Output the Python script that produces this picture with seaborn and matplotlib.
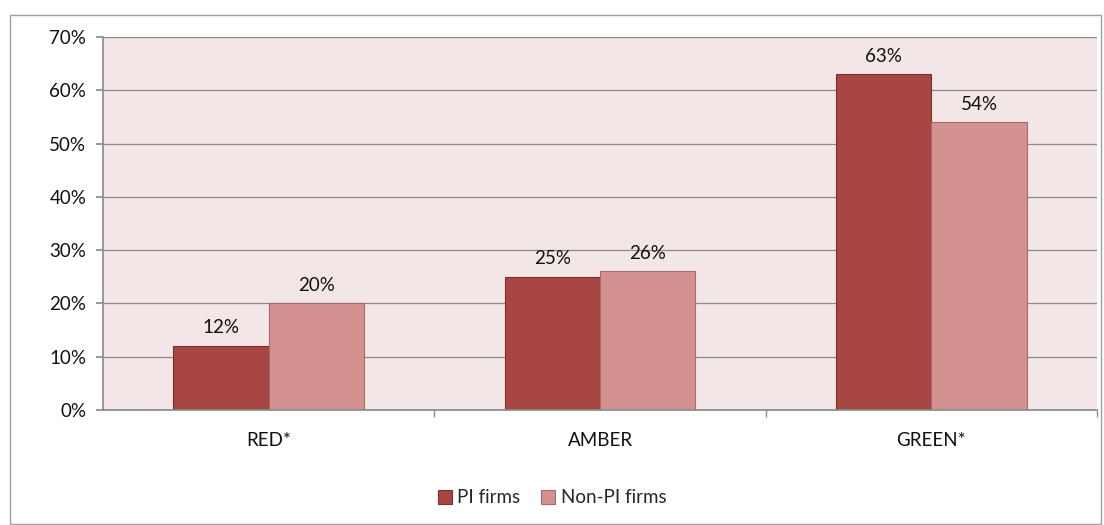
import matplotlib
matplotlib.use("Agg")
import matplotlib.pyplot as plt
from matplotlib.patches import Rectangle
from matplotlib.ticker import FuncFormatter, MultipleLocator
import seaborn as sns
import pandas as pd

categories = ["RED*", "AMBER", "GREEN*"]
series_names = ["PI firms", "Non-PI firms"]
pi_firms = [12, 25, 63]
non_pi_firms = [20, 26, 54]

colors = ["#A84644", "#D39190"]
edge_colors = ["#7E2E2C", "#A86A69"]

df = pd.DataFrame({
    "category": categories * 2,
    "series": [series_names[0]] * 3 + [series_names[1]] * 3,
    "value": pi_firms + non_pi_firms,
})

sns.set_theme(style="white")
plt.rcParams["font.family"] = ["Lato", "DejaVu Sans"]
FS = 13.5
TXT = "#111111"

fig = plt.figure(figsize=(11.04, 5.25), dpi=100)
ax = fig.add_axes([0.0933, 0.219, 0.9004, 0.7105])

sns.barplot(data=df, x="category", y="value", hue="series",
            order=categories, hue_order=series_names,
            palette=colors, width=0.575, saturation=1,
            linewidth=0.8, ax=ax, legend=False)

# darker outline per series
for container, ec in zip(ax.containers, edge_colors):
    for bar in container:
        bar.set_edgecolor(ec)

ax.set_facecolor("#F2E6E6")
ax.set_ylim(0, 70)
ax.set_xlim(-0.5, 2.5)
ax.yaxis.set_major_locator(MultipleLocator(10))
ax.yaxis.set_major_formatter(FuncFormatter(lambda v, p: f"{int(v)}%"))
ax.grid(axis="y", color="#8C8C8C", linewidth=0.9)
ax.set_axisbelow(True)
ax.set_xlabel("")
ax.set_ylabel("")

for side in ["top", "right"]:
    ax.spines[side].set_visible(False)
ax.spines["left"].set_color("#8C8C8C")
ax.spines["bottom"].set_color("#8C8C8C")

# y ticks pointing outward, x ticks at category boundaries
ax.tick_params(axis="y", which="major", left=True, length=5, color="#8C8C8C",
               labelsize=FS, labelcolor=TXT, pad=7)
ax.set_xticks([0, 1, 2])
ax.set_xticklabels(categories)
ax.tick_params(axis="x", which="major", bottom=False, labelsize=FS,
               labelcolor=TXT, pad=10)
ax.set_xticks([0.5, 1.5, 2.5], minor=True)
ax.tick_params(axis="x", which="minor", bottom=True, length=5, color="#8C8C8C")

# value labels
for container in ax.containers:
    ax.bar_label(container, labels=[f"{int(v)}%" for v in container.datavalues],
                 padding=7, fontsize=FS, color=TXT)

# legend
handles = [Rectangle((0, 0), 1, 1, facecolor=c, edgecolor=e, linewidth=0.8)
           for c, e in zip(colors, edge_colors)]
fig.legend(handles, series_names, loc="center", bbox_to_anchor=(0.5, 0.052),
           ncol=2, frameon=False, fontsize=FS, handlelength=0.75,
           handleheight=0.75, handletextpad=0.3, columnspacing=1.1)

# outer chart frame
fig.patches.append(Rectangle((0.009, 0.002), 0.988, 0.969, transform=fig.transFigure,
                             fill=False, edgecolor="#A0A0A0", linewidth=1.0))

fig.savefig("out.png", dpi=100, facecolor="white")
